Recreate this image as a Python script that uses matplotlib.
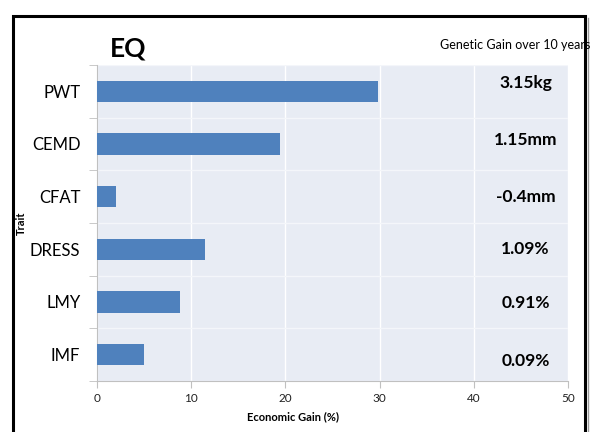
import numpy as np
import matplotlib.pyplot as plt
from matplotlib.patches import Rectangle
from matplotlib.ticker import FixedLocator

plt.rcParams['font.family'] = ['Lato', 'DejaVu Sans']

traits = ['PWT', 'CEMD', 'CFAT', 'DRESS', 'LMY', 'IMF']
econ_gain = [29.8, 19.4, 2.0, 11.5, 8.8, 5.0]
gain_labels = ['3.15kg', '1.15mm', '-0.4mm', '1.09%', '0.91%', '0.09%']
label_offsets = [0.15, 0.08, 0.0, 0.0, -0.02, -0.12]

fig = plt.figure(figsize=(5.93, 4.32), dpi=100)
ax = fig.add_axes([0.1636, 0.1181, 0.7943, 0.7315])
ax.set_facecolor('#E8ECF4')

y = np.arange(len(traits))
ax.barh(y, econ_gain, height=0.4, color='#4F81BD', zorder=3)
ax.set_xlim(0, 50)
ax.set_ylim(len(traits) - 0.5, -0.5)

ax.set_xticks(range(0, 51, 10))
ax.set_yticks(y)
ax.set_yticklabels(traits, fontsize=12)
ax.yaxis.set_minor_locator(FixedLocator(np.arange(-0.5, len(traits), 1)))
ax.tick_params(axis='y', which='major', length=0, pad=12)
ax.tick_params(axis='y', which='minor', length=6, color='#C0C0C0')
ax.tick_params(axis='x', length=5, color='#C0C0C0', labelsize=8.5, labelcolor='#222222')
ax.grid(axis='x', color='white', linewidth=1, zorder=1)
ax.grid(axis='y', which='minor', color='#F4F6FA', linewidth=1, zorder=1)

for s in ['top', 'right']:
    ax.spines[s].set_visible(False)
for s in ['left', 'bottom']:
    ax.spines[s].set_color('#C0C0C0')

ax.set_xlabel('Economic Gain (%)', fontsize=8, fontweight='bold', labelpad=4)
ax.xaxis.set_label_coords(0.416, -0.095)
ax.set_ylabel('Trait', fontsize=8, fontweight='bold', labelpad=2)

for yi, lab, off in zip(y, gain_labels, label_offsets):
    ax.text(45.5, yi - off, lab, fontsize=12.5, fontweight='bold', ha='center', va='center', zorder=4)

fig.text(0.185, 0.887, 'EQ', fontsize=19, fontweight='bold', ha='left', va='center')
fig.text(0.995, 0.895, 'Genetic Gain over 10 years', fontsize=9, ha='right', va='center')

frame = Rectangle((13 / 593, -0.05), (585 - 13) / 593, 1.05 - 16 / 432, transform=fig.transFigure,
                  fill=False, edgecolor='black', linewidth=2.2, clip_on=False)
fig.patches.append(frame)
fig.add_artist(plt.Line2D([588 / 593, 588 / 593], [0, 1 - 18 / 432], transform=fig.transFigure,
                          color='#999999', linewidth=1))

fig.savefig('out.png', dpi=100)
